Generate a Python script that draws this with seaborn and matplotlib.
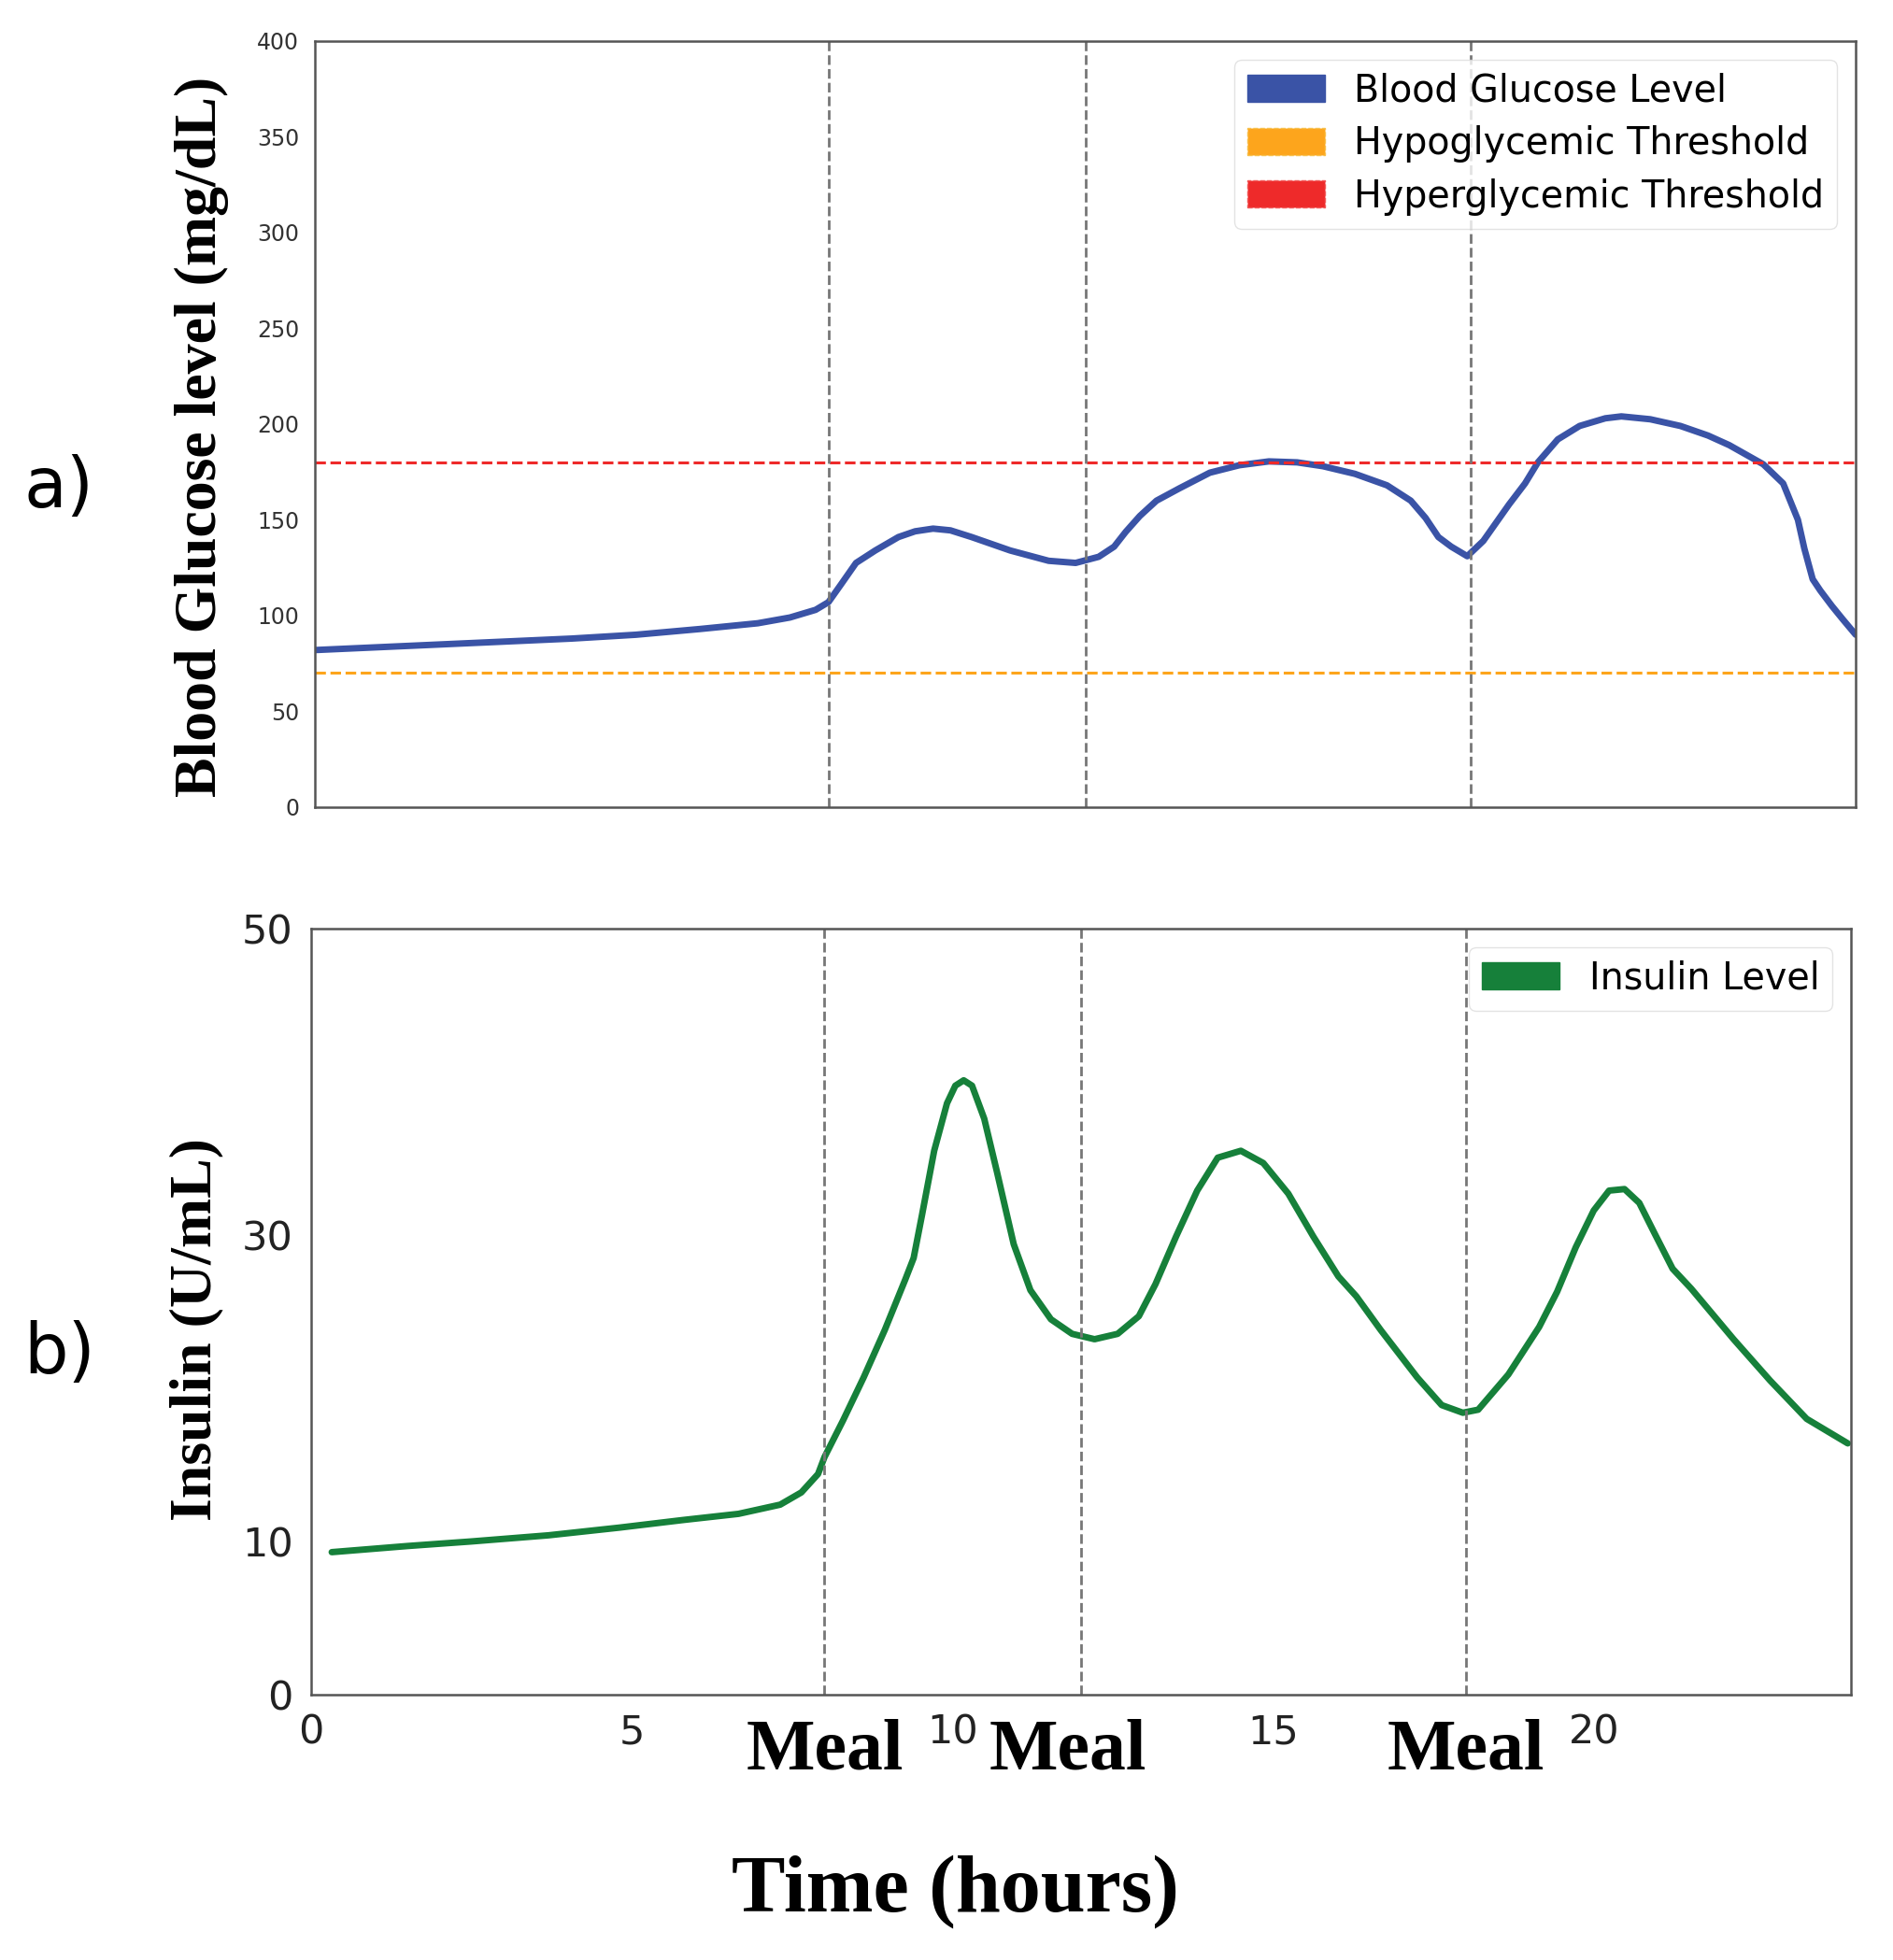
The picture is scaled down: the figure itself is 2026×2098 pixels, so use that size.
import numpy as np
import pandas as pd
import seaborn as sns
import matplotlib.pyplot as plt
import matplotlib.patches as mpatches
from matplotlib import transforms

# Data
glucose_hours = [0.0, 1.0, 2.0, 3.0, 4.0, 5.0, 6.0, 6.9, 7.4, 7.8, 8.0, 8.19, 8.43, 8.73,
                 9.09, 9.35, 9.63, 9.9, 10.23, 10.83, 11.43, 11.85, 12.21, 12.45, 12.63,
                 12.85, 13.11, 13.47, 13.94, 14.4, 14.86, 15.3, 15.7, 16.2, 16.7, 17.07,
                 17.3, 17.5, 17.7, 17.95, 18.2, 18.6, 18.85, 19.05, 19.36, 19.7, 20.1,
                 20.35, 20.8, 21.27, 21.7, 22.03, 22.56, 22.87, 23.1, 23.2, 23.33, 23.45,
                 23.63, 23.8, 24.0]
glucose_values = [82, 83.5, 85, 86.5, 88, 90, 93, 96, 99, 103, 107, 116, 127.5, 134,
                  141, 144, 145.4, 144.5, 141, 134, 128.6, 127.5, 130.7, 136, 143.7,
                  152, 160, 166.5, 174.6, 178.5, 180.5, 180, 178, 174, 168, 160,
                  151, 141, 136, 131, 139, 158, 169, 180, 192, 199, 203,
                  204, 202.5, 199, 194, 189, 179, 169, 150, 135, 119, 113,
                  105, 98, 90]

insulin_hours = [0.32, 1.5, 2.5, 3.7, 4.8, 5.8, 6.66, 7.31, 7.64, 7.9, 8.0, 8.29, 8.61, 8.94,
                 9.26, 9.39, 9.52, 9.71, 9.91, 10.04, 10.17, 10.3, 10.49, 10.69, 10.95,
                 11.21, 11.53, 11.86, 12.21, 12.57, 12.9, 13.16, 13.48, 13.81, 14.13, 14.49,
                 14.84, 15.23, 15.62, 16.01, 16.29, 16.67, 17.24, 17.62, 17.95, 18.19,
                 18.66, 19.14, 19.42, 19.71, 19.99, 20.23, 20.47, 20.7, 20.94, 21.22,
                 21.51, 22.17, 22.74, 23.31, 23.95]
insulin_values = [9.3, 9.7, 10.0, 10.4, 10.9, 11.4, 11.8, 12.4, 13.2, 14.4, 15.5, 17.9, 20.7, 23.8,
                  27.1, 28.5, 31.3, 35.5, 38.6, 39.75, 40.1, 39.75, 37.6, 34.1, 29.4,
                  26.4, 24.5, 23.55, 23.2, 23.55, 24.7, 26.8, 29.9, 32.9, 35.05, 35.5,
                  34.7, 32.7, 29.9, 27.3, 26.0, 23.8, 20.7, 18.9, 18.4, 18.6,
                  20.9, 24.0, 26.3, 29.2, 31.6, 32.9, 33.0, 32.1, 30.1, 27.8,
                  26.5, 23.2, 20.5, 18.0, 16.4]

meal_times = [8, 12, 18]
hypo_threshold = 70
hyper_threshold = 180
glucose_yticks = [0, 50, 100, 150, 200, 250, 300, 350, 400]
insulin_yticks = [0, 10, 30, 50]
time_xticks = [0, 5, 10, 15, 20]

df_glu = pd.DataFrame({'hour': glucose_hours, 'glucose': glucose_values})
df_ins = pd.DataFrame({'hour': insulin_hours, 'insulin': insulin_values})

sns.set_style("white")
plt.rcParams['font.family'] = ['DejaVu Sans']
plt.rcParams['text.color'] = 'black'

blue = '#3a53a6'
green = '#16803a'
orange = '#fda51c'
red = '#ee2a2a'
spine_col = '#555555'

fig = plt.figure(figsize=(20.26, 20.98), dpi=100)
ax1 = fig.add_axes([0.1663, 0.5882, 0.8140, 0.3909])
ax2 = fig.add_axes([0.1644, 0.1354, 0.8134, 0.3908])

# Top panel: blood glucose
sns.lineplot(data=df_glu, x='hour', y='glucose', ax=ax1, color=blue, linewidth=5, legend=False)
ax1.axhline(hypo_threshold, color=orange, linestyle='--', linewidth=2.2)
ax1.axhline(hyper_threshold, color=red, linestyle='--', linewidth=2.2)
for m in meal_times:
    ax1.axvline(m, color='#777777', linestyle='--', linewidth=2)
ax1.set_xlim(0, 24)
ax1.set_ylim(0, 400)
ax1.set_yticks(glucose_yticks)
ax1.set_xticks(time_xticks)
ax1.set_xticklabels([])
ax1.tick_params(axis='y', labelsize=17, colors='#333333', length=6, width=1.5, pad=6)
ax1.tick_params(axis='x', length=4, width=1, colors='#bbbbbb')
ax1.set_xlabel('')
ax1.set_ylabel('')

handles1 = [
    mpatches.Patch(facecolor=blue, edgecolor=blue, label='Blood Glucose Level'),
    mpatches.Patch(facecolor=orange, edgecolor='#f7c04a', linestyle='--', label='Hypoglycemic Threshold'),
    mpatches.Patch(facecolor=red, edgecolor='#f25a5a', linestyle='--', label='Hyperglycemic Threshold'),
]
ax1.legend(handles=handles1, loc='upper right', fontsize=28.5, handlelength=2.1,
           handleheight=0.75, handletextpad=0.8, borderpad=0.35, labelspacing=0.42,
           frameon=True, edgecolor='#dddddd', bbox_to_anchor=(1.0, 1.0))

# Bottom panel: insulin
sns.lineplot(data=df_ins, x='hour', y='insulin', ax=ax2, color=green, linewidth=5, legend=False)
for m in meal_times:
    ax2.axvline(m, color='#777777', linestyle='--', linewidth=2)
ax2.set_xlim(0, 24)
ax2.set_ylim(0, 50)
ax2.set_yticks(insulin_yticks)
ax2.set_xticks(time_xticks)
ax2.tick_params(axis='both', labelsize=31, colors='#222222', length=6, width=1.5, pad=8)
ax2.set_xlabel('')
ax2.set_ylabel('')
handles2 = [mpatches.Patch(facecolor=green, edgecolor=green, label='Insulin Level')]
ax2.legend(handles=handles2, loc='upper right', fontsize=28.5, handlelength=2.1,
           handleheight=0.75, handletextpad=0.8, borderpad=0.35,
           frameon=True, edgecolor='#dddddd', bbox_to_anchor=(1.0, 1.0))

for ax in (ax1, ax2):
    for s in ax.spines.values():
        s.set_visible(True)
        s.set_color(spine_col)
        s.set_linewidth(1.8)

serif = ['Liberation Serif', 'DejaVu Serif']

# Meal labels under the meal lines
trans = transforms.blended_transform_factory(ax2.transData, ax2.transAxes)
meal_offsets = [0, -0.2, 0]
for m, off in zip(meal_times, meal_offsets):
    ax2.text(m + off, -0.075, 'Meal', transform=trans, ha='center', va='center',
             fontsize=56, fontweight='bold', family=serif, color='black')

fig.text(0.5045, 0.035, 'Time (hours)', ha='center', va='center',
         fontsize=62, fontweight='bold', family=serif, color='black')
fig.text(0.1066, 0.777, 'Blood Glucose level (mg/dL)', ha='center', va='center',
         rotation=90, fontsize=46, fontweight='bold', family=serif, color='black')
fig.text(0.104, 0.3218, 'Insulin (U/mL)', ha='center', va='center',
         rotation=90, fontsize=46, fontweight='bold', family=serif, color='black')
fig.text(0.031, 0.751, 'a)', ha='center', va='center', fontsize=54, color='black')
fig.text(0.0316, 0.309, 'b)', ha='center', va='center', fontsize=54, color='black')

fig.savefig('out.png', dpi=100)
